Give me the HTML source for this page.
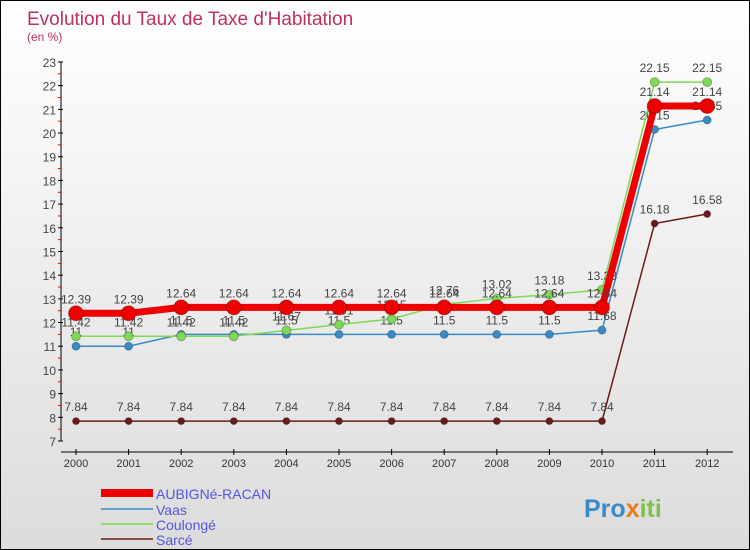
<!DOCTYPE html>
<html><head><meta charset="utf-8"><style>
body{margin:0}
#c{position:relative;width:748px;height:548px;border:1px solid #000;background:linear-gradient(#fff,#dcdcdc);overflow:hidden;font-family:"Liberation Sans",sans-serif}
svg text{font-family:"Liberation Sans",sans-serif}
</style></head><body>
<div id="c">
<svg id="s" width="748" height="548">
<text x="26" y="24" font-size="19" fill="#c0305a">Evolution du Taux de Taxe d'Habitation</text>
<text x="26" y="40" font-size="12" fill="#c0305a">(en %)</text>
<g id="axes"></g><g id="series"></g>
<g>
<line x1="100" y1="492" x2="152" y2="492" stroke="#e00" stroke-width="8"/>
<text x="155" y="498" font-size="14" fill="#5555dd">AUBIGNé-RACAN</text>
<line x1="100" y1="508" x2="152" y2="508" stroke="#3a8ac8" stroke-width="1.5"/>
<text x="155" y="514" font-size="14" fill="#5555dd">Vaas</text>
<line x1="100" y1="523" x2="152" y2="523" stroke="#7ed957" stroke-width="1.5"/>
<text x="155" y="529" font-size="14" fill="#5555dd">Coulongé</text>
<line x1="100" y1="538" x2="152" y2="538" stroke="#6b1a1a" stroke-width="1.5"/>
<text x="155" y="544" font-size="14" fill="#5555dd">Sarcé</text>
</g>
<text x="583" y="516" font-size="25" font-weight="bold"><tspan fill="#3a8ac8">Pro</tspan><tspan fill="#e87a1a">x</tspan><tspan fill="#7cc24a">iti</tspan></text>
</svg></div>
<script>
const years=[2000,2001,2002,2003,2004,2005,2006,2007,2008,2009,2010,2011,2012];
const aubigne=[12.39,12.39,12.64,12.64,12.64,12.64,12.64,12.64,12.64,12.64,12.64,21.14,21.14];
const vaas=[11,11,11.5,11.5,11.5,11.5,11.5,11.5,11.5,11.5,11.68,20.15,20.55];
const coulonge=[11.42,11.42,11.42,11.42,11.67,11.91,12.15,12.76,13.02,13.18,13.38,22.15,22.15];
const sarce=[7.84,7.84,7.84,7.84,7.84,7.84,7.84,7.84,7.84,7.84,7.84,16.18,16.58];
const yTicks=[7,8,9,10,11,12,13,14,15,16,17,18,19,20,21,22,23];
const NS="http://www.w3.org/2000/svg";
const x=i=>75+i*52.6;
const y=v=>440-(v-7)*23.69;
function mk(t,a,p){const e=document.createElementNS(NS,t);for(const k in a)e.setAttribute(k,a[k]);p.appendChild(e);return e;}
const ax=document.getElementById('axes');
let e=mk('line',{x1:60,y1:y(23),x2:60,y2:y(7),stroke:'#000'},ax);


e=mk('line',{x1:60,y1:451,x2:732,y2:451,stroke:'#000'},ax);


yTicks.forEach(v=>{
 mk('line',{x1:57,y1:y(v),x2:62,y2:y(v),stroke:'#000'},ax);
 if(v<23)mk('line',{x1:57,y1:y(v+0.5),x2:60,y2:y(v+0.5),stroke:'#e00'},ax);
 const t=mk('text',{x:55,y:y(v)+5,'text-anchor':'end','font-size':12,fill:'#444'},ax);t.textContent=v;
 
 
});
years.forEach((yr,i)=>{
 mk('line',{x1:x(i),y1:448,x2:x(i),y2:454,stroke:'#000'},ax);
 const t=mk('text',{x:x(i),y:466,'text-anchor':'middle','font-size':11,fill:'#333'},ax);t.textContent=yr;
 
 
});
const sg=document.getElementById('series');
function series(name,vals,col,w,r){
 const g=mk('g',{},sg);
 
 
 const p=mk('polyline',{points:vals.map((v,i)=>x(i)+','+y(v)).join(' '),fill:'none',stroke:col,'stroke-width':w},g);
 
 
 vals.forEach((v,i)=>{
  const c=mk('circle',{cx:x(i),cy:y(v),r:r,fill:col,stroke:'rgba(0,0,0,0.25)'},g);
  
  
  const t=mk('text',{x:x(i),y:y(v)-10,'text-anchor':'middle','font-size':12,fill:'#444'},g);t.textContent=v;
  
  
 });
}
series('sarce',sarce,'#6b1a1a',1.5,3.5);
series('vaas',vaas,'#3a8ac8',1.5,4);
series('coulonge',coulonge,'#7ed957',1.5,4.5);
series('aubigne',aubigne,'#e00',7,7.5);
</script>
</body></html>
